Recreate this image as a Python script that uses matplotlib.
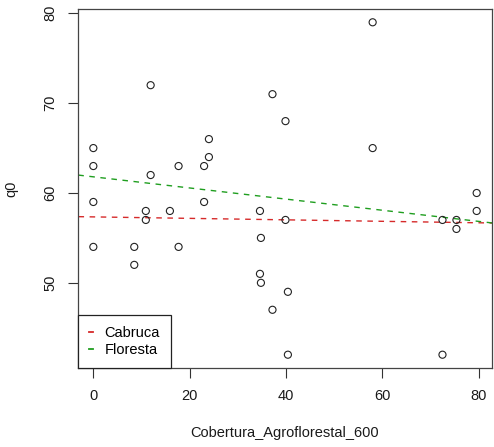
import matplotlib
matplotlib.use("Agg")
import matplotlib.pyplot as plt
import numpy as np
from matplotlib.lines import Line2D

plt.rcParams["font.family"] = ["Liberation Sans", "DejaVu Sans"]

# Observed landscape cover vs. q0
cobertura = [0, 0, 0, 0, 8.5, 8.5, 10.9, 10.9, 11.9, 11.9, 15.9, 17.7, 17.7,
             23.0, 23.0, 24.0, 24.0, 34.6, 34.8, 34.6, 34.8, 37.2, 37.2,
             39.9, 39.9, 40.4, 40.4, 58.0, 58.0, 72.5, 72.5, 75.4, 75.4,
             79.6, 79.6]
q0 = [65, 63, 59, 54, 54, 52, 58, 57, 72, 62, 58, 63, 54,
      63, 59, 66, 64, 58, 55, 51, 50, 71, 47,
      68, 57, 49, 42, 79, 65, 57, 42, 57, 56,
      60, 58]

# Fitted lines per habitat (intercept, slope)
grupos = ["Cabruca", "Floresta"]
intercepto = [57.34, 61.80]
inclinacao = [-0.0082, -0.062]
cores = ["#d62a2a", "#1f9e1f"]

fig = plt.figure(figsize=(4.94, 4.47), dpi=100)
ax = fig.add_axes([78 / 494, 1 - 368 / 447, (492 - 78) / 494, (368 - 9) / 447])

ax.scatter(cobertura, q0, s=26, facecolors="none", edgecolors="#222222",
           linewidths=0.8, zorder=3)

xr = np.array([-10, 100])
for b0, b1, c in zip(intercepto, inclinacao, cores):
    ax.plot(xr, b0 + b1 * xr, color=c, lw=1.0, ls=(0, (4, 4)), zorder=2)

xmin, xmax = min(cobertura), max(cobertura)
ymin, ymax = min(q0), max(q0)
px = 0.04 * (xmax - xmin)
py = 0.04 * (ymax - ymin)
ax.set_xlim(xmin - px, xmax + px)
ax.set_ylim(ymin - py, ymax + py)

ax.set_xticks([0, 20, 40, 60, 80])
ax.set_yticks([50, 60, 70, 80])
ax.tick_params(axis="both", length=7, width=0.8, color="#333333",
               labelsize=10.5, labelcolor="#1a1a1a", pad=8)
for lab in ax.get_yticklabels():
    lab.set_rotation(90)
    lab.set_va("center")
for sp in ax.spines.values():
    sp.set_color("#444444")
    sp.set_linewidth(0.9)

ax.set_xlabel("Cobertura_Agroflorestal_600", fontsize=10.5, color="#1a1a1a",
              labelpad=17)
ax.set_ylabel("q0", fontsize=10.5, color="#1a1a1a", labelpad=18)

handles = [Line2D([0], [0], color=c, lw=1.3) for c in cores]
leg = ax.legend(handles, grupos, loc="lower left", borderaxespad=0,
                fancybox=False, framealpha=1, edgecolor="#222222",
                handlelength=0.3, handletextpad=0.75, fontsize=10.5,
                borderpad=0.75, labelspacing=0.2)
leg.get_frame().set_linewidth(0.9)

fig.savefig("out.png", dpi=100)
